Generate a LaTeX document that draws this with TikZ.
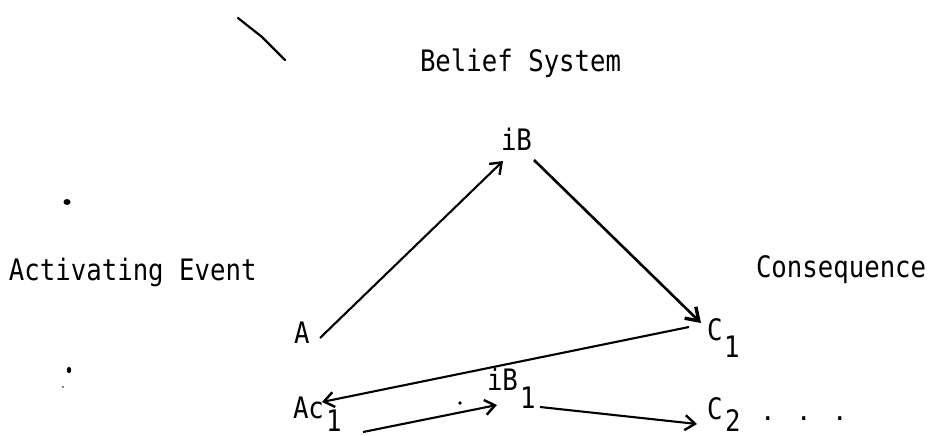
\documentclass[tikz,border=0pt]{standalone}
\usepackage{fontspec}
\newfontfamily\tw{DejaVu Sans Mono}
\usetikzlibrary{arrows.meta}
\newcommand{\tall}[1]{\scalebox{1}[1.15]{#1}}
\tikzset{
  lbl/.style={inner sep=0pt, outer sep=0pt, anchor=base west, font=\tw\fontsize{25.7}{30}\selectfont},
  conn/.style={line width=2.1pt, -{Straight Barb[length=10pt,width=15pt,line width=2.4pt]}},
  connheavy/.style={line width=2.6pt, -{Straight Barb[length=12pt,width=16pt,line width=3.4pt]}},
  speck/.style={fill=black, draw=none}
}
\begin{document}
\begin{tikzpicture}[x=1pt,y=-1pt]
\useasboundingbox (0,0) rectangle (935,436);
\clip (0,0) rectangle (935,436);
% labels
\node[lbl] (belief) at (420,72) {\tall{Belief System}};
\node[lbl] (act) at (9,280) {\tall{Activating Event}};
\node[lbl] (cons) at (756,277) {\tall{Consequence}};
% nodes
\node[lbl] (iB) at (501,150) {\tall{iB}};
\node[lbl] (A) at (294,343) {\tall{A}};
\node[lbl] (C1) at (707,340) {\tall{C}};
\node[lbl] (C1s) at (724,357) {\tall{1}};
\node[lbl] (Ac1) at (293,418) {\tall{Ac}};
\node[lbl] (Ac1s) at (326,431) {\tall{1}};
\node[lbl] (iB1) at (487,390) {\tall{iB}};
\node[lbl] (iB1s) at (520,408) {\tall{1}};
\node[lbl] (C2) at (707,419) {\tall{C}};
\node[lbl] (C2s) at (725,431) {\tall{2}};
\node[lbl] (dots) at (760,420) {. . .};
% connector end points
\coordinate (A-out) at (320,338);
\coordinate (iB-in) at (503,161);
\coordinate (iB-out) at (534,160);
\coordinate (C1-in) at (701,323);
\coordinate (C1-out) at (689,327);
\coordinate (Ac1-in) at (322,402);
\coordinate (Ac1-out) at (363,432);
\coordinate (iB1-in) at (497,405);
\coordinate (iB1-out) at (540,407);
\coordinate (C2-in) at (697,424);
% connectors
\draw[conn] (A-out) -- (iB-in);
\draw[connheavy] (iB-out) -- (C1-in);
\draw[conn] (C1-out) -- (Ac1-in);
\draw[conn] (Ac1-out) -- (iB1-in);
\draw[conn] (iB1-out) -- (C2-in);
% stray marks of the scan
\coordinate (s1) at (238,18);
\coordinate (s2) at (262,37);
\coordinate (s3) at (285,60);
\draw[line width=2.2pt, line cap=round, line join=round] (s1) -- (s2) -- (s3);
\fill[speck] (67,202) ellipse (3.5pt and 3pt);
\fill[speck] (69,370) ellipse (2.2pt and 3.2pt);
\fill[speck] (63,387) circle (0.8pt);
\fill[speck] (460,403) circle (1.8pt);
\end{tikzpicture}
\end{document}
